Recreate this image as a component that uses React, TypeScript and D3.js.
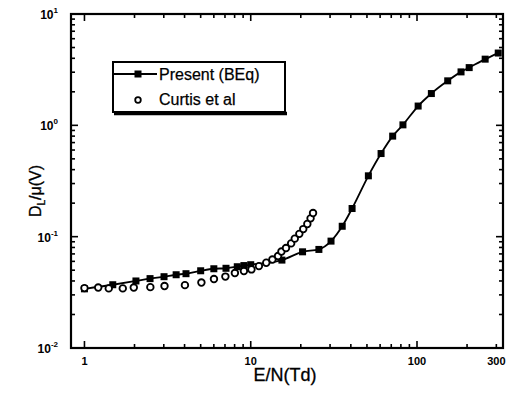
import React, { useRef, useEffect } from 'react';
import * as d3 from 'd3';

// Present (BEq) : E/N (Td), D_L/mu (V)
const presentEN = [1, 1.48, 2.04, 2.48, 3.01, 3.56, 4.08, 5.0, 6.0, 7.1, 8.3, 9.1, 10, 15.4, 20.5, 25.7, 30.4, 35.5, 40.7, 51, 60.8, 71.4, 82.3, 101.6, 122, 153, 184, 206, 257, 308];
const presentDL = [0.034, 0.037, 0.040, 0.042, 0.0437, 0.0455, 0.0465, 0.0494, 0.0515, 0.052, 0.0537, 0.055, 0.056, 0.0616, 0.0731, 0.0768, 0.0912, 0.124, 0.179, 0.352, 0.558, 0.80, 1.01, 1.49, 1.93, 2.51, 3.02, 3.30, 3.93, 4.46];

// Curtis et al
const curtisEN = [1.0, 1.21, 1.40, 1.70, 1.98, 2.49, 3.03, 4.02, 5.05, 6.01, 7.04, 8.03, 9.1, 10.1, 11.2, 12.4, 13.5, 14.6, 15.3, 16.3, 17.5, 18.4, 19.6, 20.7, 21.9, 22.9, 23.7];
const curtisDL = [0.0345, 0.0349, 0.0343, 0.0343, 0.0349, 0.0352, 0.036, 0.0367, 0.0387, 0.0416, 0.0438, 0.0471, 0.0491, 0.0508, 0.0544, 0.0583, 0.0623, 0.067, 0.0735, 0.079, 0.087, 0.096, 0.106, 0.117, 0.130, 0.146, 0.163];

const xMajor = [1, 10, 100];
const xLabels = ['1', '10', '100', '300'];
const xLabelVals = [1, 10, 100, 300];
const yMajor = [0.01, 0.1, 1, 10];
const yExp = ['-2', '-1', '0', '1'];
const legendNames = ['Present (BEq)', 'Curtis et al'];

const FONT = "'Liberation Sans', Arial, sans-serif";

function App() {
  const ref = useRef<SVGSVGElement>(null);

  useEffect(() => {
    const svg = d3.select(ref.current);
    svg.selectAll('*').remove();

    const left = 71, right = 503, top = 14, bottom = 348;
    const x = d3.scaleLog().domain([0.83, 329]).range([left, right]);
    const y = d3.scaleLog().domain([0.01, 10]).range([bottom, top]);

    // minor ticks
    const xMinor: number[] = [];
    [1, 10, 100].forEach(d => { for (let k = 2; k <= 9; k++) if (d * k < 329) xMinor.push(d * k); });
    const yMinor: number[] = [];
    [0.01, 0.1, 1].forEach(d => { for (let k = 2; k <= 9; k++) yMinor.push(d * k); });

    const g = svg.append('g').attr('stroke', '#000').attr('stroke-width', 1.6);
    xMajor.forEach(v => {
      g.append('line').attr('x1', x(v)).attr('x2', x(v)).attr('y1', bottom).attr('y2', bottom - 7);
      g.append('line').attr('x1', x(v)).attr('x2', x(v)).attr('y1', top).attr('y2', top + 7);
    });
    xMinor.forEach(v => {
      g.append('line').attr('x1', x(v)).attr('x2', x(v)).attr('y1', bottom).attr('y2', bottom - 4);
      g.append('line').attr('x1', x(v)).attr('x2', x(v)).attr('y1', top).attr('y2', top + 4);
    });
    yMajor.forEach(v => {
      g.append('line').attr('y1', y(v)).attr('y2', y(v)).attr('x1', left).attr('x2', left + 7);
      g.append('line').attr('y1', y(v)).attr('y2', y(v)).attr('x1', right).attr('x2', right - 7);
    });
    yMinor.forEach(v => {
      g.append('line').attr('y1', y(v)).attr('y2', y(v)).attr('x1', left).attr('x2', left + 4);
      g.append('line').attr('y1', y(v)).attr('y2', y(v)).attr('x1', right).attr('x2', right - 4);
    });

    svg.append('rect')
      .attr('x', left).attr('y', top).attr('width', right - left).attr('height', bottom - top)
      .attr('fill', 'none').attr('stroke', '#000').attr('stroke-width', 2.2);

    // x tick labels
    svg.append('g').selectAll('text').data(xLabelVals).join('text')
      .attr('x', d => x(d)).attr('y', 365)
      .attr('text-anchor', 'middle')
      .attr('font-family', FONT).attr('font-size', 11).attr('font-weight', 'bold')
      .text((d, i) => xLabels[i]);

    // y tick labels
    const yl = svg.append('g').selectAll('text').data(yMajor).join('text')
      .attr('x', 58).attr('y', d => y(d) + 5)
      .attr('text-anchor', 'end')
      .attr('font-family', FONT).attr('font-weight', 'bold');
    yl.append('tspan').attr('font-size', 12).text('10');
    yl.append('tspan').attr('font-size', 8).attr('dy', -6).text((d, i) => yExp[i]);

    // axis titles
    svg.append('text')
      .attr('x', 285).attr('y', 381).attr('text-anchor', 'middle')
      .attr('font-family', FONT).attr('font-size', 18)
      .attr('stroke', '#000').attr('stroke-width', 0.3)
      .text('E/N(Td)');

    const yt = svg.append('text')
      .attr('transform', 'translate(41,191) rotate(-90)')
      .attr('text-anchor', 'middle')
      .attr('font-family', FONT).attr('font-size', 16)
      .attr('stroke', '#000').attr('stroke-width', 0.3);
    yt.append('tspan').text('D');
    yt.append('tspan').attr('font-size', 10).attr('dy', 4).text('L');
    yt.append('tspan').attr('dy', -4).text('/\u03bc(V)');

    // present line + squares
    const present = presentEN.map((v, i) => [v, presentDL[i]] as [number, number]);
    const curtis = curtisEN.map((v, i) => [v, curtisDL[i]] as [number, number]);

    const line = d3.line<[number, number]>()
      .x(d => x(d[0])).y(d => y(d[1]))
      .curve(d3.curveMonotoneX);

    svg.append('path').datum(present)
      .attr('d', line).attr('fill', 'none').attr('stroke', '#000').attr('stroke-width', 1.8);

    svg.append('g').selectAll('rect').data(present).join('rect')
      .attr('x', d => x(d[0]) - 3.5).attr('y', d => y(d[1]) - 3.5)
      .attr('width', 7).attr('height', 7).attr('fill', '#000');

    svg.append('g').selectAll('circle').data(curtis).join('circle')
      .attr('cx', d => x(d[0])).attr('cy', d => y(d[1])).attr('r', 3.3)
      .attr('fill', '#fff').attr('stroke', '#000').attr('stroke-width', 1.8);

    // legend
    const lg = svg.append('g');
    lg.append('rect').attr('x', 113).attr('y', 62).attr('width', 172).attr('height', 50)
      .attr('fill', '#fff').attr('stroke', '#000').attr('stroke-width', 2);
    lg.append('line').attr('x1', 114).attr('x2', 287).attr('y1', 113.5).attr('y2', 113.5)
      .attr('stroke', '#000').attr('stroke-width', 3.5);
    lg.append('line').attr('x1', 113).attr('x2', 157).attr('y1', 74).attr('y2', 74)
      .attr('stroke', '#000').attr('stroke-width', 1.8);
    lg.append('rect').attr('x', 134.5).attr('y', 70.5).attr('width', 7).attr('height', 7).attr('fill', '#000');
    lg.append('circle').attr('cx', 138).attr('cy', 100).attr('r', 2.8)
      .attr('fill', '#fff').attr('stroke', '#000').attr('stroke-width', 1.8);
    lg.selectAll('text.lt').data(legendNames).join('text')
      .attr('class', 'lt')
      .attr('x', 159).attr('y', (d, i) => 80 + i * 25)
      .attr('font-family', FONT).attr('font-size', 16)
      .attr('stroke', '#000').attr('stroke-width', 0.25)
      .text(d => d);
  }, []);

  return (
    <svg ref={ref} width={510} height={395}
      style={{ position: 'absolute', left: 0, top: 0, background: '#fff' }} />
  );
}

export default App;
